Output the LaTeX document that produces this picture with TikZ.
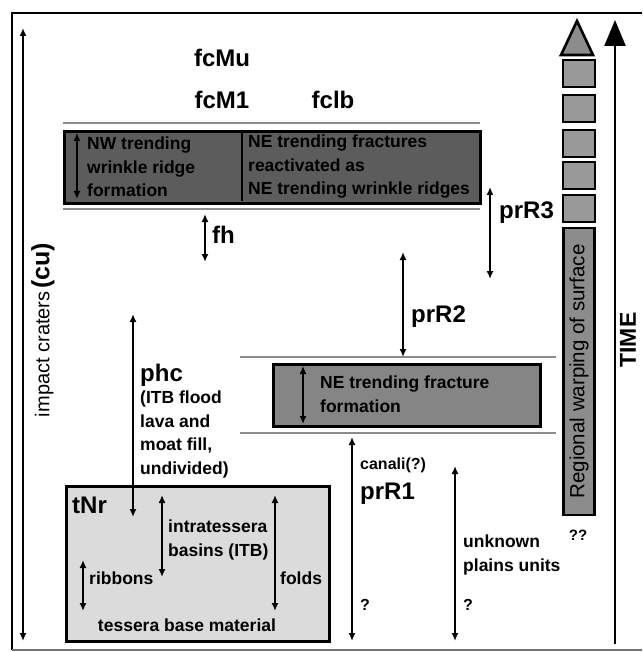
\documentclass[tikz,border=0pt]{standalone}
\usepackage{fontspec}
\setmainfont{Liberation Sans}
\usetikzlibrary{arrows.meta}

\begin{document}
\begin{tikzpicture}[
  x=1pt, y=-1pt,
  unitlbl/.style={font=\fontsize{24}{28}\selectfont\bfseries, inner sep=0pt},
  txt/.style={font=\fontsize{17.5}{23.5}\selectfont\bfseries, align=left, inner sep=0pt},
  qmark/.style={font=\fontsize{16}{19}\selectfont\bfseries, inner sep=0pt},
  span/.style={{Latex[length=8pt,width=7pt]}-{Latex[length=8pt,width=7pt]}, line width=1.9pt},
  band/.style={draw=black!45, line width=1.3pt},
  unitbox/.style={draw, line width=2.6pt, line join=miter},
]
\useasboundingbox (0,0) rectangle (642,652);

% frame
\draw[line width=2pt] (642,13) -- (12,13) -- (12,650);
\draw[line width=1.6pt, black!55] (12,650) -- (642,650);

% impact craters
\coordinate (cutop) at (23,28);
\coordinate (cubot) at (23,641);
\draw[span] (cutop) -- (cubot);
\node[rotate=90, inner sep=0pt] (craters) at (43,330)
  {{\fontsize{20}{24}\selectfont impact craters} {\fontsize{25}{30}\selectfont\bfseries (cu)}};

% upper units
\node[unitlbl] (fcmu) at (222,58) {fcMu};
\node[unitlbl] (fcmone) at (222,100) {fcM1};
\node[unitlbl] (fclb) at (333,100) {fclb};

% wrinkle ridge box
\draw[band] (63,123) -- (480,123);
\draw[band] (63,209) -- (480,209);
\node[unitbox, fill=black!64, minimum width=416pt, minimum height=72pt, anchor=north west] (ridgebox) at (63,130) {};
\draw[line width=2pt] (242,131) -- (242,201);
\coordinate (nwtop) at (77,133);
\coordinate (nwbot) at (77,199);
\draw[span, line width=1.4pt] (nwtop) -- (nwbot);
\node[txt, anchor=west] (nwtext) at (87,167) {NW trending\\wrinkle ridge\\formation};
\node[txt, anchor=west] (netext) at (248,167) {NE trending fractures\\reactivated as\\NE trending wrinkle ridges};

% fh
\coordinate (fhtop) at (205,214);
\coordinate (fhbot) at (205,262);
\draw[span] (fhtop) -- (fhbot);
\node[unitlbl, anchor=west] (fh) at (212,235) {fh};

% prR3
\coordinate (rthreetop) at (490,187);
\coordinate (rthreebot) at (490,279);
\draw[span] (rthreetop) -- (rthreebot);
\node[unitlbl, anchor=west] (prrthree) at (499,213) {prR3};

% prR2
\coordinate (rtwotop) at (403,252);
\coordinate (rtwobot) at (403,357);
\draw[span] (rtwotop) -- (rtwobot);
\node[unitlbl, anchor=west] (prrtwo) at (411,317) {prR2};

% fracture box
\draw[band] (240,357) -- (556,357);
\draw[band] (240,433) -- (556,433);
\node[unitbox, fill=black!48, minimum width=267pt, minimum height=62pt, anchor=north west] (fracbox) at (272,363) {};
\coordinate (fractop) at (303,366);
\coordinate (fracbot) at (303,424);
\draw[span, line width=1.4pt] (fractop) -- (fracbot);
\node[txt, anchor=west] (fractext) at (320,394) {NE trending fracture\\formation};

% tessera
\node[unitbox, fill=black!14, minimum width=263pt, minimum height=155pt, anchor=north west] (tessbox) at (65,485) {};
\node[unitlbl, anchor=west] (tnr) at (72,505) {tNr};
\coordinate (itbtop) at (162,495);
\coordinate (itbbot) at (162,577);
\draw[span] (itbtop) -- (itbbot);
\node[txt, anchor=west] (itb) at (168,540) {intratessera\\basins (ITB)};
\coordinate (ribtop) at (83,560);
\coordinate (ribbot) at (83,611);
\draw[span] (ribtop) -- (ribbot);
\node[txt, anchor=west] (ribbons) at (89,578) {ribbons};
\coordinate (foldtop) at (275,495);
\coordinate (foldbot) at (275,611);
\draw[span] (foldtop) -- (foldbot);
\node[txt, anchor=west] (folds) at (280,578) {folds};
\node[txt] (base) at (187,625) {tessera base material};

% phc
\coordinate (phctop) at (133,314);
\coordinate (phcbot) at (133,517);
\draw[span] (phctop) -- (phcbot);
\node[unitlbl, anchor=west] (phc) at (140,375) {phc};
\node[txt, anchor=north west] (phctext) at (140,391) {(ITB flood\\lava and\\moat fill,\\undivided)};

% prR1
\coordinate (ronetop) at (352,437);
\coordinate (ronebot) at (352,641);
\draw[span] (ronetop) -- (ronebot);
\node[txt, anchor=west, font=\fontsize{16}{19}\selectfont\bfseries] (canali) at (360,465) {canali(?)};
\node[unitlbl, anchor=west] (prrone) at (360,494) {prR1};
\node[qmark, anchor=west] (qone) at (360,605) {?};

% unknown plains
\coordinate (plaintop) at (455,466);
\coordinate (plainbot) at (455,641);
\draw[span] (plaintop) -- (plainbot);
\node[txt, anchor=west] (plains) at (463,555) {unknown\\plains units};
\node[qmark, anchor=west] (qtwo) at (463,605) {?};

% regional warping
\draw[unitbox, fill=black!45] (577,21) -- (593,55) -- (561,55) -- cycle;
\foreach \top in {60,95,130,162,195}
  \draw[unitbox, fill=black!40] (563,\top) rectangle +(32,27);
\node[unitbox, fill=black!45, rotate=90, minimum width=287pt, minimum height=31pt, inner sep=0pt,
  font=\fontsize{20.5}{24}\selectfont] (warpbar) at (579,371.5) {Regional warping of surface};
\node[qmark, font=\fontsize{15}{18}\selectfont\bfseries] (qq) at (578,535) {??};

% time
\coordinate (timebot) at (615,644);
\coordinate (timetop) at (615,20);
\draw[line width=2.4pt, -{Triangle[length=26pt,width=21pt]}] (timebot) -- (timetop);
\node[rotate=90, font=\fontsize{23}{27}\selectfont\bfseries, inner sep=0pt] (time) at (628,340) {TIME};

\end{tikzpicture}
\end{document}
